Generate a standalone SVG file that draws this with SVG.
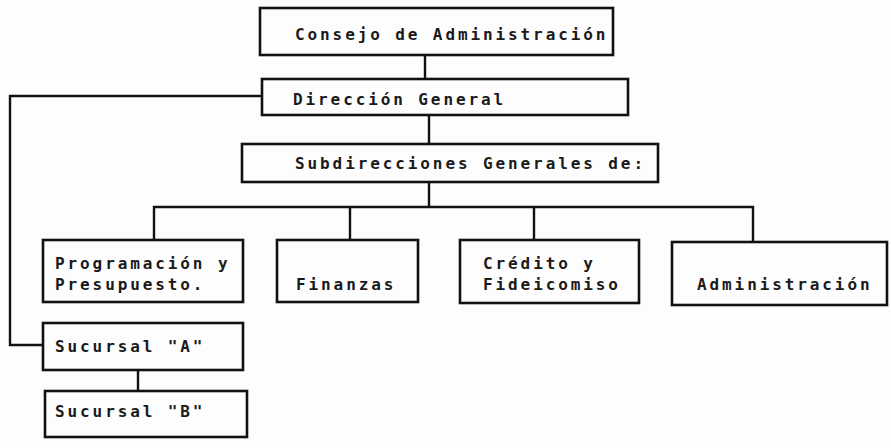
<svg xmlns="http://www.w3.org/2000/svg" width="891" height="448" viewBox="0 0 891 448">
<style>
.box{fill:none;stroke:#111;stroke-width:2.6}
.ln{fill:none;stroke:#111;stroke-width:2.4}
text{font-family:"DejaVu Sans Mono","Liberation Mono",monospace;font-size:16px;font-weight:bold;letter-spacing:2.9px;fill:#1a1a1a}
</style>
<rect width="891" height="448" fill="#fdfdfd"/>
<g id="connectors">
<path class="ln" d="M425 55V79"/>
<path class="ln" d="M429 115V144"/>
<path class="ln" d="M429 182V207"/>
<path class="ln" d="M154 240V207H753V242"/>
<path class="ln" d="M350 207V240"/>
<path class="ln" d="M534 207V240"/>
<path class="ln" d="M262 96H10V345H43"/>
<path class="ln" d="M138 370V391"/>
</g>
<g id="consejo"><rect class="box" x="260" y="8" width="353" height="47"/><text x="295" y="40">Consejo de Administración</text></g>
<g id="direccion"><rect class="box" x="262" y="79" width="366" height="36"/><text x="293" y="105">Dirección General</text></g>
<g id="subdirecciones"><rect class="box" x="242" y="144" width="416" height="38"/><text x="295" y="169">Subdirecciones Generales de:</text></g>
<g id="programacion"><rect class="box" x="43" y="240" width="200" height="62"/><text x="55" y="269">Programación y</text><text x="55" y="290">Presupuesto.</text></g>
<g id="finanzas"><rect class="box" x="277" y="240" width="141" height="62"/><text x="296" y="290">Finanzas</text></g>
<g id="credito"><rect class="box" x="460" y="240" width="179" height="63"/><text x="483" y="269">Crédito y</text><text x="483" y="290">Fideicomiso</text></g>
<g id="administracion"><rect class="box" x="672" y="242" width="215" height="63"/><text x="697" y="290">Administración</text></g>
<g id="sucursalA"><rect class="box" x="43" y="323" width="200" height="47"/><text x="55" y="352">Sucursal "A"</text></g>
<g id="sucursalB"><rect class="box" x="45" y="391" width="202" height="46"/><text x="55" y="417">Sucursal "B"</text></g>
</svg>
